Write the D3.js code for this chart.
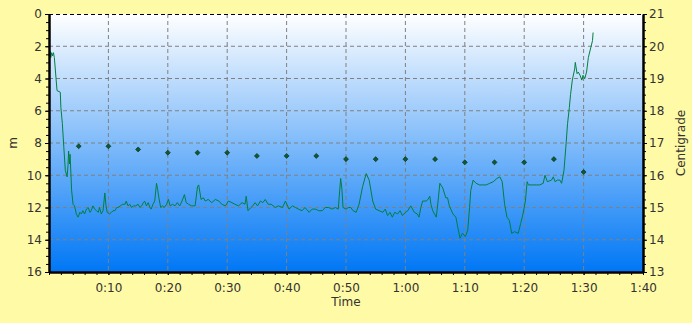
<!DOCTYPE html>
<html>
<head>
<meta charset="utf-8">
<script src="https://cdn.jsdelivr.net/npm/d3@7"></script>
<style>
  body { margin: 0; background: #fffaa5; }
  svg { display: block; font-family: "DejaVu Sans", sans-serif; }
</style>
</head>
<body>
<div id="chart"></div>
<script>
// Depth profile: time in minutes, depth in metres
const depthTime = [
  0, 0.15, 0.3, 0.45, 0.6, 0.75, 0.9, 1.35, 1.9, 2.0, 2.25, 2.5, 2.75, 3.05, 3.2, 3.3, 3.45, 3.55, 3.8, 4.05,
  4.3, 4.6, 4.9, 5.2, 5.45, 5.7, 6.0, 6.3, 6.6, 6.9, 7.1, 7.4, 7.7, 8.0, 8.3, 8.5, 8.8, 9.1, 9.4, 9.6,
  9.8, 10.2, 10.5, 10.8, 11.1, 11.4, 11.6, 12.0, 12.4, 12.8, 13.0, 13.3, 13.6, 13.9, 14.2, 14.6, 15.0, 15.3, 15.6, 15.9,
  16.1, 16.4, 16.7, 17.0, 17.2, 17.5, 17.8, 18.1, 18.3, 18.5, 18.8, 19.1, 19.4, 19.8, 20.1, 20.4, 20.8, 21.2, 21.6, 22.0,
  22.4, 22.8, 23.1, 23.5, 24.0, 24.3, 24.6, 25.0, 25.2, 25.6, 26.0, 26.3, 26.8, 27.4, 28.0, 28.6, 29.1, 29.7, 30.2, 30.8,
  31.3, 31.9, 32.5, 33.0, 33.2, 33.5, 34.0, 34.3, 34.7, 35.1, 35.6, 36.0, 36.4, 36.9, 37.4, 38.1, 38.6, 39.3, 39.8, 40.4,
  41.0, 41.5, 42.0, 42.6, 43.1, 43.8, 44.3, 44.9, 45.4, 46.0, 46.5, 47.1, 47.6, 48.2, 48.7, 49.1, 49.3, 49.5, 50.0, 50.4,
  50.8, 51.2, 51.7, 52.2, 52.8, 53.4, 53.9, 54.5, 55.0, 55.6, 56.2, 56.6, 57.0, 57.4, 57.8, 58.2, 58.7, 59.1, 59.5, 60.0,
  60.4, 60.9, 61.5, 62.0, 62.3, 62.6, 62.9, 63.5, 63.8, 64.1, 64.3, 64.6, 65.2, 65.5, 65.8, 66.3, 66.8, 67.1, 67.4, 68.0,
  68.5, 68.8, 69.2, 69.6, 70.1, 70.5, 70.8, 71.0, 71.4, 71.9, 72.5, 73.0, 73.6, 74.2, 74.8, 75.4, 75.9, 76.3, 76.7, 77.1,
  77.5, 77.9, 78.4, 79.0, 79.4, 79.8, 80.2, 80.5, 80.7, 81.5, 82.1, 82.6, 83.2, 83.5, 83.9, 84.6, 84.9, 85.2, 85.6, 86.0,
  86.3, 86.7, 87.0, 87.3, 87.6, 87.8, 88.1, 88.5, 88.6, 88.9, 89.1, 89.4, 89.7, 89.9, 90.2, 90.5, 90.8, 91.2, 91.5, 91.6
];
const depthM = [
  2.6, 2.3, 2.7, 2.4, 2.6, 2.4, 2.7, 4.75, 4.85, 5.8, 6.8, 8.3, 9.7, 10.1, 9.4, 8.5, 9.3, 8.7, 10.9, 11.8,
  11.9, 12.4, 12.6, 12.3, 12.4, 12.2, 12.4, 12.1, 12.0, 12.3, 12.2, 11.9, 12.1, 12.2, 12.3, 12.0, 12.4, 12.2, 11.1, 11.9,
  12.3, 12.4, 12.3, 12.2, 12.2, 12.0, 12.0, 11.9, 11.8, 11.8, 11.6, 11.9, 11.8, 12.0, 11.9, 11.9, 11.8, 12.0, 11.9, 11.7,
  11.6, 11.9, 11.7, 12.0, 12.1, 11.8, 11.6, 10.5, 10.9, 11.4, 12.0, 11.9, 12.0, 11.8, 11.5, 11.9, 11.8, 11.9, 11.7, 11.9,
  11.6, 11.2, 11.7, 11.8, 11.9, 11.9, 11.9, 10.7, 10.6, 11.5, 11.4, 11.6, 11.5, 11.7, 11.5, 11.6, 11.8, 11.9, 11.6, 11.7,
  11.8, 11.9, 11.7, 11.8, 11.3, 12.2, 12.0, 11.9, 11.7, 11.9, 11.6, 11.7, 11.5, 11.8, 11.8, 12.0, 11.9, 12.0, 11.6, 12.1,
  11.9, 12.0, 12.1, 12.2, 12.0, 12.3, 12.1, 12.1, 12.2, 12.2, 12.0, 12.0, 12.1, 12.0, 12.1, 10.2, 10.8, 12.0, 12.1, 12.0,
  12.0, 12.2, 12.3, 11.8, 10.7, 9.9, 10.3, 11.6, 12.1, 12.2, 12.3, 12.1, 12.5, 12.3, 12.6, 12.3, 12.4, 12.2, 12.5, 12.3,
  12.2, 11.9, 12.3, 12.4, 12.6, 12.0, 11.6, 11.6, 11.5, 11.3, 11.8, 12.2, 12.6, 11.6, 10.5, 10.8, 11.4, 11.4, 11.9, 12.4,
  12.6, 13.2, 13.9, 13.6, 13.8, 13.4, 12.0, 10.95, 10.3, 10.5, 10.6, 10.6, 10.6, 10.5, 10.4, 10.2, 10.1, 10.4, 11.8, 12.6,
  12.8, 13.6, 13.5, 13.6, 13.0, 12.4, 11.6, 10.4, 10.6, 10.6, 10.6, 10.6, 10.5, 10.0, 10.4, 10.3, 10.1, 10.4, 10.3, 10.3,
  10.5, 9.7, 8.3, 6.8, 5.8, 5.0, 4.1, 3.4, 3.0, 3.7, 3.6, 3.8, 4.1, 3.8, 4.0, 3.6, 2.7, 2.1, 1.65, 1.15
];

// Water temperature samples every 5 minutes
const tempTime = [5, 10, 15, 20, 25, 30, 35, 40, 45, 50, 55, 60, 65, 70, 75, 80, 85, 90];
const tempC = [16.9, 16.9, 16.8, 16.7, 16.7, 16.7, 16.6, 16.6, 16.6, 16.5, 16.5, 16.5, 16.5, 16.4, 16.4, 16.4, 16.5, 16.1];

// Axis ticks
const timeTicks = [10, 20, 30, 40, 50, 60, 70, 80, 90, 100];
const depthTicks = [0, 2, 4, 6, 8, 10, 12, 14, 16];
const tempTicks = [13, 14, 15, 16, 17, 18, 19, 20, 21];

// Settings
const width = 692;
const height = 323;
const margin = { top: 14, right: 49, bottom: 51, left: 49 };
const innerW = width - margin.left - margin.right;
const innerH = height - margin.top - margin.bottom;
const lineColor = "#008040";
const gridColor = "#808080";

const svg = d3.select("#chart").append("svg")
  .attr("width", width)
  .attr("height", height);

// Background gradient of the plot area
const grad = svg.append("defs").append("linearGradient")
  .attr("id", "bg").attr("x1", 0).attr("y1", 0).attr("x2", 0).attr("y2", 1);
grad.append("stop").attr("offset", "0%").attr("stop-color", "#ffffff");
grad.append("stop").attr("offset", "100%").attr("stop-color", "#0077f5");

const g = svg.append("g").attr("transform", "translate(" + margin.left + "," + margin.top + ")");

g.append("rect").attr("width", innerW).attr("height", innerH).attr("fill", "url(#bg)");

// Scales
const x = d3.scaleLinear().domain([0, 100]).range([0, innerW]);
const y = d3.scaleLinear().domain([0, 16]).range([0, innerH]);
const yT = d3.scaleLinear().domain([13, 21]).range([innerH, 0]);

const fmtTime = (v) => Math.floor(v / 60) + ":" + d3.format("02d")(v % 60);

// Grid lines
g.append("g").selectAll("line").data(timeTicks.slice(0, -1)).enter().append("line")
  .attr("x1", (d) => x(d)).attr("x2", (d) => x(d))
  .attr("y1", 0).attr("y2", innerH)
  .attr("stroke", gridColor).attr("stroke-dasharray", "4,3");
g.append("g").selectAll("line").data(depthTicks.slice(1, -1)).enter().append("line")
  .attr("x1", 0).attr("x2", innerW)
  .attr("y1", (d) => y(d)).attr("y2", (d) => y(d))
  .attr("stroke", gridColor).attr("stroke-dasharray", "4,3");

// Top border
g.append("line").attr("x1", 0).attr("x2", innerW).attr("y1", 0.5).attr("y2", 0.5)
  .attr("stroke", "#000").attr("stroke-dasharray", "4,3");

// Depth line
const line = d3.line()
  .x((d, i) => x(depthTime[i]))
  .y((d) => y(d));
g.append("path").datum(depthM)
  .attr("d", line)
  .attr("fill", "none")
  .attr("stroke", lineColor)
  .attr("stroke-width", 1);

// Temperature points
g.selectAll(".temp").data(tempC).enter().append("path")
  .attr("class", "temp")
  .attr("transform", (d, i) => "translate(" + x(tempTime[i]) + "," + yT(d) + ")")
  .attr("d", d3.symbol(d3.symbolDiamond2).size(16))
  .attr("fill", "#0e5a30")
  .attr("stroke", "#062a16")
  .attr("stroke-width", 0.6);

// Axes
const styleAxis = (sel) => {
  sel.selectAll(".domain").attr("stroke", "#000").attr("stroke-width", 2.5);
  sel.selectAll("text").attr("fill", "#333").style("font-size", "12px").style("font-family", "DejaVu Sans");
};

const minor = (sel, axis) => sel.append("g").call(axis).call((s) => {
  s.selectAll("text").remove();
  s.select(".domain").remove();
});

// X axis
const xAxisG = g.append("g").attr("transform", "translate(0," + innerH + ")");
minor(xAxisG, d3.axisBottom(x).tickValues(d3.range(0, 101, 2)).tickSize(3).tickFormat(""));
xAxisG.append("g")
  .call(d3.axisBottom(x).tickValues(timeTicks).tickSize(3).tickPadding(8).tickFormat(fmtTime).tickSizeOuter(0))
  .call(styleAxis);

// Left axis
const yAxisG = g.append("g");
minor(yAxisG, d3.axisLeft(y).tickValues(d3.range(0, 16.01, 0.5)).tickSize(3).tickFormat(""));
yAxisG.append("g")
  .call(d3.axisLeft(y).tickValues(depthTicks).tickSize(4).tickPadding(3).tickSizeOuter(0))
  .call(styleAxis);

// Right axis
const yTAxisG = g.append("g").attr("transform", "translate(" + innerW + ",0)");
minor(yTAxisG, d3.axisRight(yT).tickValues(d3.range(13, 21.01, 0.25)).tickSize(3).tickFormat(""));
yTAxisG.append("g")
  .call(d3.axisRight(yT).tickValues(tempTicks).tickSize(4).tickPadding(2).tickSizeOuter(0))
  .call(styleAxis);

// Axis titles
svg.append("text")
  .attr("x", margin.left + innerW / 2).attr("y", 306)
  .attr("text-anchor", "middle").attr("fill", "#333").style("font-size", "12px")
  .text("Time");
svg.append("text")
  .attr("transform", "translate(17," + (margin.top + innerH / 2) + ") rotate(-90)")
  .attr("text-anchor", "middle").attr("fill", "#333").style("font-size", "12px")
  .text("m");
svg.append("text")
  .attr("transform", "translate(685," + (margin.top + innerH / 2) + ") rotate(-90)")
  .attr("text-anchor", "middle").attr("fill", "#333").style("font-size", "12px")
  .text("Centigrade");
</script>
</body>
</html>
